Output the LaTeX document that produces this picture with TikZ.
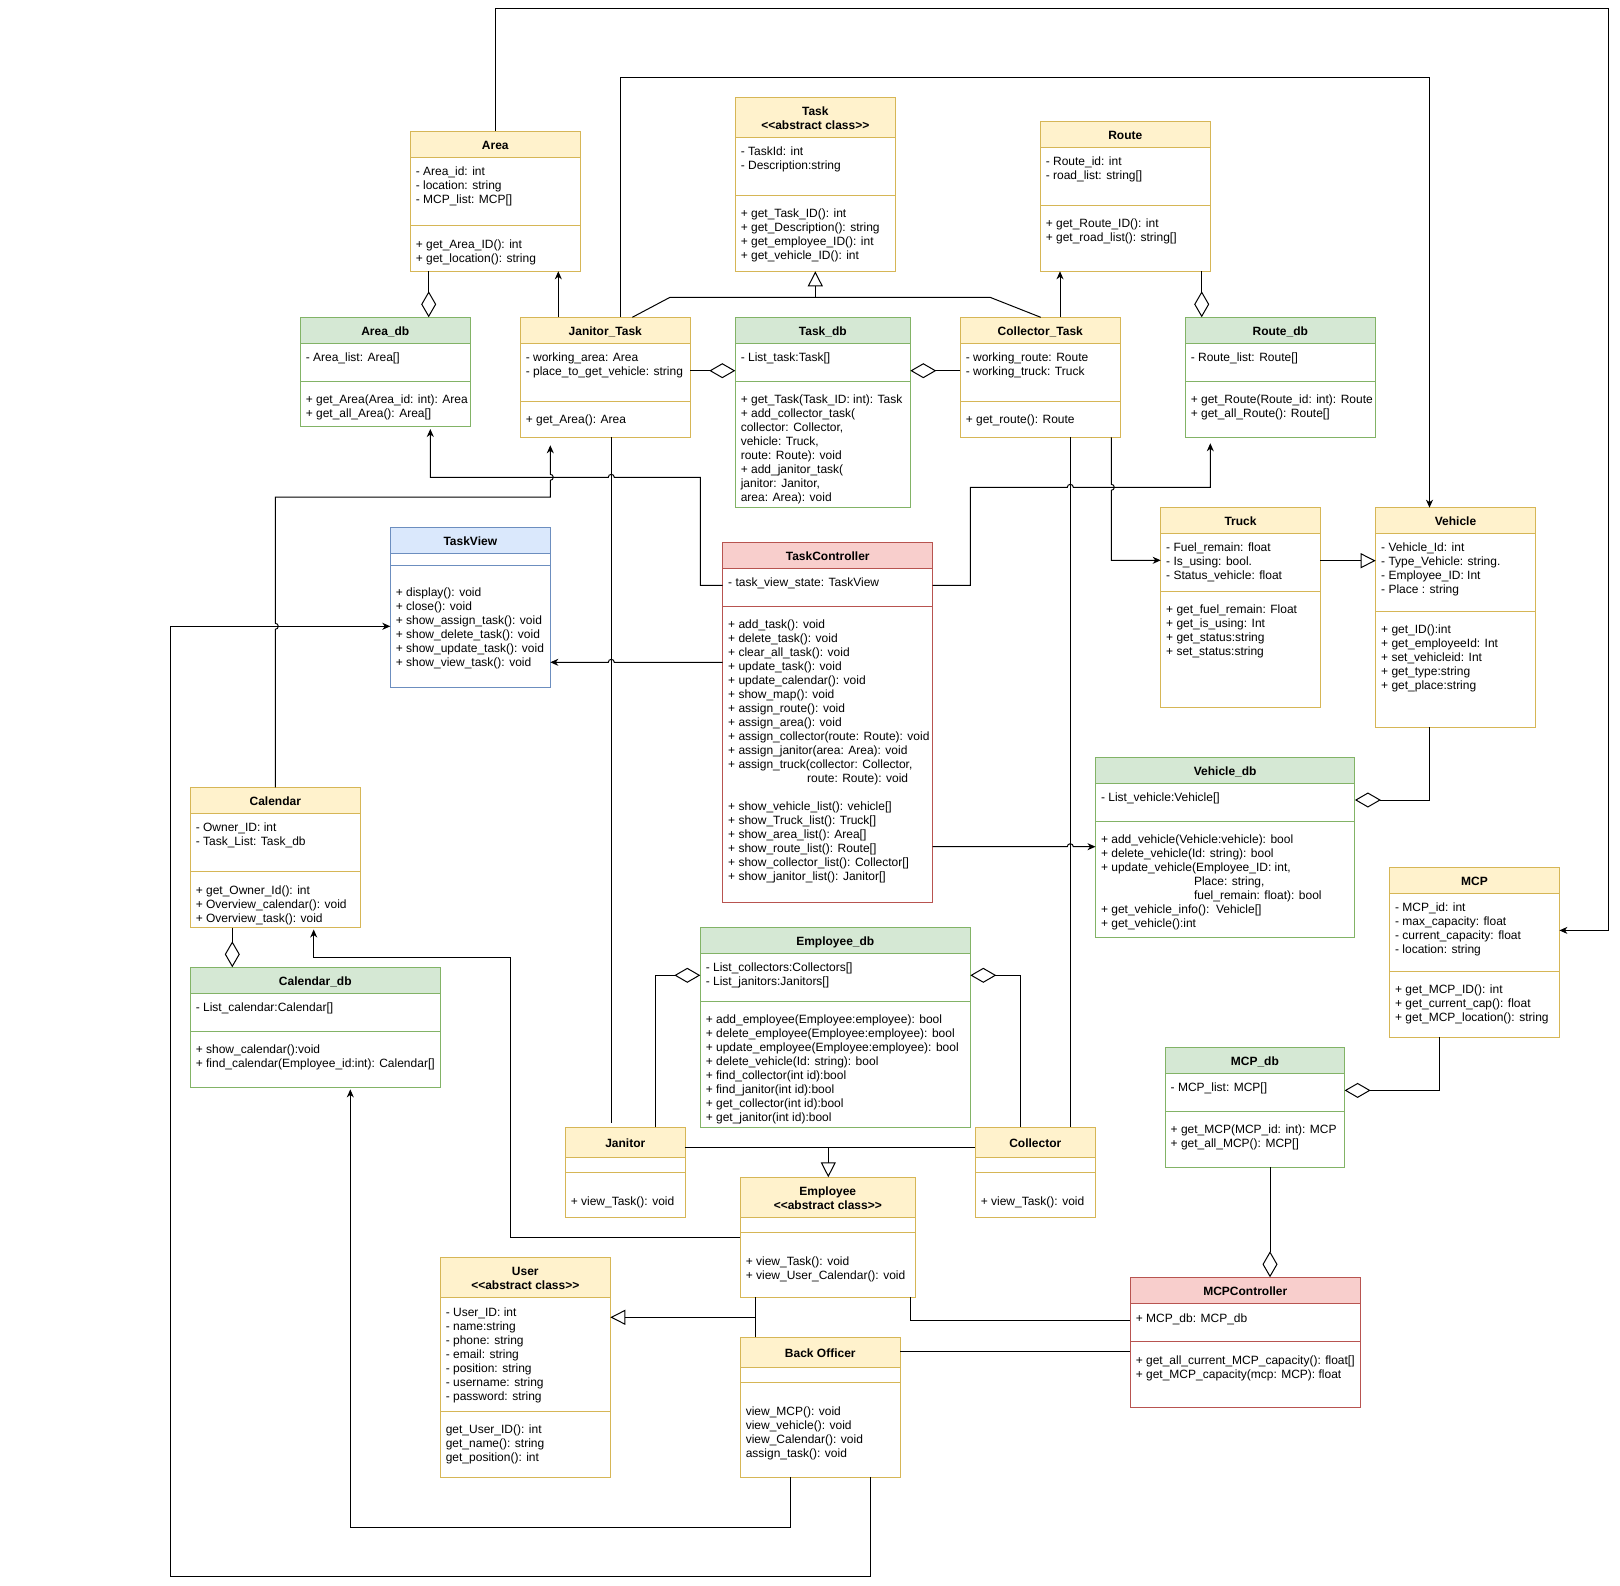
\documentclass[tikz,border=0pt]{standalone}
\usepackage{fontspec}
\setmainfont{Liberation Sans}
\usetikzlibrary{arrows.meta}
\definecolor{ylwfill}{HTML}{FFF2CC}\definecolor{ylwline}{HTML}{D6B656}
\definecolor{grnfill}{HTML}{D5E8D4}\definecolor{grnline}{HTML}{82B366}
\definecolor{blufill}{HTML}{DAE8FC}\definecolor{bluline}{HTML}{6C8EBF}
\definecolor{redfill}{HTML}{F8CECC}\definecolor{redline}{HTML}{B85450}
\tikzset{
  boxframe/.style={draw, fill=none, inner sep=0pt, outer sep=0pt, line width=1pt},
  ttl/.style={anchor=base, inner sep=0pt, outer sep=0pt, font=\fontsize{12}{14}\selectfont\bfseries},
  ctxt/.style={anchor=base west, inner sep=0pt, outer sep=0pt, font=\fontsize{12}{14}\selectfont},
  conn/.style={draw=black, line width=1pt},
  arr/.style={conn, -{Stealth[length=8pt,width=7pt,inset=2.5pt]}},
  gen/.style={conn, -{Triangle[open,length=15pt,width=15pt,fill=white]}},
  agg/.style={conn, -{Diamond[open,length=26pt,width=15pt,fill=white]}},
}
\newcommand{\classbox}[9]{%
  \fill[#2fill] (#3,#4) rectangle (#5,#7);
  \node[boxframe, draw=#2line, anchor=north west, minimum width={(#5-#3)*1pt}, minimum height={(#6-#4)*1pt}] (#1) at (#3,#4) {};
  \draw[#2line, line width=1pt] (#3,#7) -- (#5,#7) (#3,#8) -- (#5,#8);
  \node[ttl] (#1title) at ({(#3+#5)/2},{(#4+#7)/2+5.2}) {#9};
}
\newcommand{\ctext}[4]{\node[ctxt] (#1) at ({#2+5.5},{#3+5.2}) {\begin{tabular}[t]{@{}l@{}}#4\end{tabular}};}
\newcommand{\twoline}[2]{\raisebox{7pt}{\begin{tabular}[t]{@{}c@{}}#1\\#2\end{tabular}}}
\newcommand{\abst}{<\kern0pt<abstract class>\kern0pt>}
\begin{document}
\catcode`\_=12
\begin{tikzpicture}[x=1pt, y=-1pt, line width=1pt]
\fill[white] (0,0) rectangle (1620,1586);
\useasboundingbox (0,0) rectangle (1620,1586);

% ---------- classes ----------
\classbox{Task}{ylw}{735.3}{97.3}{895.3}{271.3}{137.3}{195.3}{\twoline{Task}{\abst}}
\ctext{Taska}{735.3}{150.7}{- TaskId: int\\- Description:string}
\ctext{Taskm}{735.3}{212.7}{+ get_Task_ID(): int\\+ get_Description(): string\\+ get_employee_ID(): int\\+ get_vehicle_ID(): int}

\classbox{Area}{ylw}{410.3}{131.3}{580.3}{271.3}{157.3}{225.3}{Area}
\ctext{Areaa}{410.3}{170.7}{- Area_id: int\\- location: string\\- MCP_list: MCP[]}
\ctext{Aream}{410.3}{243}{+ get_Area_ID(): int\\+ get_location(): string}

\classbox{Route}{ylw}{1040.3}{121.3}{1210.3}{271.3}{147.7}{205.7}{Route}
\ctext{Routea}{1040.3}{160.7}{- Route_id: int\\- road_list: string[]}
\ctext{Routem}{1040.3}{222.7}{+ get_Route_ID(): int\\+ get_road_list(): string[]}

\classbox{AreaDB}{grn}{300.3}{317.3}{470.3}{427}{343.3}{381.3}{Area_db}
\ctext{AreaDBa}{300.3}{356.7}{- Area_list: Area[]}
\ctext{AreaDBm}{300.3}{398.7}{+ get_Area(Area_id: int): Area\\+ get_all_Area(): Area[]}

\classbox{JanitorTask}{ylw}{520.3}{317.3}{690.3}{437.3}{343.3}{401.7}{Janitor_Task}
\ctext{JanitorTaska}{520.3}{356.7}{- working_area: Area\\- place_to_get_vehicle: string}
\ctext{JanitorTaskm}{520.3}{418.7}{+ get_Area(): Area}

\classbox{TaskDB}{grn}{735.3}{317.3}{910.3}{507.3}{343.3}{381.3}{Task_db}
\ctext{TaskDBa}{735.3}{356.7}{- List_task:Task[]}
\ctext{TaskDBm}{735.3}{398.7}{+ get_Task(Task_ID: int): Task\\+ add_collector_task(\\collector: Collector,\\vehicle: Truck,\\route: Route): void\\+ add_janitor_task(\\janitor: Janitor,\\area: Area): void}

\classbox{CollectorTask}{ylw}{960.3}{317.3}{1120.3}{437.3}{343.3}{401.7}{Collector_Task}
\ctext{CollectorTaska}{960.3}{356.7}{- working_route: Route\\- working_truck: Truck}
\ctext{CollectorTaskm}{960.3}{418.7}{+ get_route(): Route}

\classbox{RouteDB}{grn}{1185.3}{317.3}{1375.3}{437.3}{343.3}{381.3}{Route_db}
\ctext{RouteDBa}{1185.3}{356.7}{- Route_list: Route[]}
\ctext{RouteDBm}{1185.3}{398.7}{+ get_Route(Route_id: int): Route\\+ get_all_Route(): Route[]}

\classbox{TaskView}{blu}{390.3}{527.6}{550.3}{687.1}{553.3}{565.7}{TaskView}
\ctext{TaskViewm}{390.3}{591}{+ display(): void\\+ close(): void\\+ show_assign_task(): void\\+ show_delete_task(): void\\+ show_update_task(): void\\+ show_view_task(): void}

\classbox{TaskController}{red}{722.7}{542.3}{932.7}{902.3}{568.3}{606.3}{TaskController}
\ctext{TaskControllera}{722.7}{581.7}{- task_view_state: TaskView}
\ctext{TaskControllerm}{722.7}{623.7}{+ add_task(): void\\+ delete_task(): void\\+ clear_all_task(): void\\+ update_task(): void\\+ update_calendar(): void\\+ show_map(): void\\+ assign_route(): void\\+ assign_area(): void\\+ assign_collector(route: Route): void\\+ assign_janitor(area: Area): void\\+ assign_truck(collector: Collector,\\\hspace*{79pt}route: Route): void\\ \\+ show_vehicle_list(): vehicle[]\\+ show_Truck_list(): Truck[]\\+ show_area_list(): Area[]\\+ show_route_list(): Route[]\\+ show_collector_list(): Collector[]\\+ show_janitor_list(): Janitor[]}

\classbox{Truck}{ylw}{1160.7}{507.7}{1320.3}{707.3}{533.3}{591.7}{Truck}
\ctext{Trucka}{1160.7}{546.7}{- Fuel_remain: float\\- Is_using: bool.\\- Status_vehicle: float}
\ctext{Truckm}{1160.7}{608.7}{+ get_fuel_remain: Float\\+ get_is_using: Int\\+ get_status:string\\+ set_status:string}

\classbox{Vehicle}{ylw}{1375.7}{507.7}{1535.3}{727.3}{533.3}{611.7}{Vehicle}
\ctext{Vehiclea}{1375.7}{546.7}{- Vehicle_Id: int\\- Type_Vehicle: string.\\- Employee_ID: Int\\- Place : string}
\ctext{Vehiclem}{1375.7}{628.7}{+ get_ID():int\\+ get_employeeId: Int\\+ set_vehicleid: Int\\+ get_type:string\\+ get_place:string}

\classbox{VehicleDB}{grn}{1095.5}{757.1}{1354.9}{937.1}{783.2}{821.4}{Vehicle_db}
\ctext{VehicleDBa}{1095.5}{796.4}{- List_vehicle:Vehicle[]}
\ctext{VehicleDBm}{1095.5}{838.6}{+ add_vehicle(Vehicle:vehicle): bool\\+ delete_vehicle(Id: string): bool\\+ update_vehicle(Employee_ID: int,\\\hspace*{93pt}Place: string,\\\hspace*{93pt}fuel_remain: float): bool\\+ get_vehicle_info():\ \ Vehicle[]\\+ get_vehicle():int}

\classbox{MCP}{ylw}{1389.6}{867.5}{1559.4}{1037.1}{893.6}{971.4}{MCP}
\ctext{MCPa}{1389.6}{906.4}{- MCP_id: int\\- max_capacity: float\\- current_capacity: float\\- location: string}
\ctext{MCPm}{1389.6}{988.6}{+ get_MCP_ID(): int\\+ get_current_cap(): float\\+ get_MCP_location(): string}

\classbox{Calendar}{ylw}{190.3}{787.4}{360.3}{927.5}{813.8}{871.6}{Calendar}
\ctext{Calendara}{190.3}{826.4}{- Owner_ID: int\\- Task_List: Task_db}
\ctext{Calendarm}{190.3}{888.8}{+ get_Owner_Id(): int\\+ Overview_calendar(): void\\+ Overview_task(): void}

\classbox{CalendarDB}{grn}{190.3}{967.3}{440.3}{1087.4}{993.3}{1031.6}{Calendar_db}
\ctext{CalendarDBa}{190.3}{1006.3}{- List_calendar:Calendar[]}
\ctext{CalendarDBm}{190.3}{1048.4}{+ show_calendar():void\\+ find_calendar(Employee_id:int): Calendar[]}

\classbox{EmployeeDB}{grn}{700.3}{927.3}{970.3}{1127}{953.3}{1001.3}{Employee_db}
\ctext{EmployeeDBa}{700.3}{966.7}{- List_collectors:Collectors[]\\- List_janitors:Janitors[]}
\ctext{EmployeeDBm}{700.3}{1018.7}{+ add_employee(Employee:employee): bool\\+ delete_employee(Employee:employee): bool\\+ update_employee(Employee:employee): bool\\+ delete_vehicle(Id: string): bool\\+ find_collector(int id):bool\\+ find_janitor(int id):bool\\+ get_collector(int id):bool\\+ get_janitor(int id):bool}

\classbox{Janitor}{ylw}{565.3}{1127.3}{685.3}{1217.3}{1157.3}{1172.3}{Janitor}
\ctext{Janitorm}{565.3}{1200.7}{+ view_Task(): void}

\classbox{Collector}{ylw}{975.3}{1127.3}{1095.3}{1217.3}{1157.3}{1172.3}{Collector}
\ctext{Collectorm}{975.3}{1200.7}{+ view_Task(): void}

\classbox{Employee}{ylw}{740.3}{1177.3}{915.3}{1297.3}{1217.3}{1232.3}{\twoline{Employee}{\abst}}
\ctext{Employeem}{740.3}{1260.7}{+ view_Task(): void\\+ view_User_Calendar(): void}

\classbox{User}{ylw}{440.3}{1257.3}{610.3}{1477.3}{1297.3}{1411.3}{\twoline{User}{\abst}}
\ctext{Usera}{440.3}{1311.7}{- User_ID: int\\- name:string\\- phone: string\\- email: string\\- position: string\\- username: string\\- password: string}
\ctext{Userm}{440.3}{1428.7}{get_User_ID(): int\\get_name(): string\\get_position(): int}

\classbox{BackOfficer}{ylw}{740.3}{1337.3}{900.3}{1477.3}{1367.3}{1382.3}{Back Officer}
\ctext{BackOfficerm}{740.3}{1410.7}{view_MCP(): void\\view_vehicle(): void\\view_Calendar(): void\\assign_task(): void}

\classbox{MCPDB}{grn}{1165.2}{1047.5}{1344.6}{1167.1}{1073.6}{1111.4}{MCP_db}
\ctext{MCPDBa}{1165.2}{1086.4}{- MCP_list: MCP[]}
\ctext{MCPDBm}{1165.2}{1128.2}{+ get_MCP(MCP_id: int): MCP\\+ get_all_MCP(): MCP[]}

\classbox{MCPController}{red}{1130.3}{1277.3}{1360.3}{1407}{1303.3}{1341.3}{MCPController}
\ctext{MCPControllera}{1130.3}{1317.3}{+ MCP_db: MCP_db}
\ctext{MCPControllerm}{1130.3}{1359}{+ get_all_current_MCP_capacity(): float[]\\+ get_MCP_capacity(mcp: MCP): float}

% ---------- connectors ----------
\draw[arr] (495.3,0 |- Area.north) -- (495.3,8.3) -- (1608.7,8.3) -- (1608.7,930.4) -- (MCP.east |- 0,930.4);
\draw[arr] (620.3,0 |- JanitorTask.north) -- (620.3,77.5) -- (1429.5,77.5) -- (1429.5,0 |- Vehicle.north);
\draw[agg] (428.7,0 |- Area.south) -- (428.7,0 |- AreaDB.north);
\draw[arr] (558.3,0 |- JanitorTask.north) -- (558.3,0 |- Area.south);
\draw[conn] (632.3,0 |- JanitorTask.north) -- (670,297.3) -- (990,297.3) -- (1040.7,0 |- CollectorTask.north);
\draw[gen] (815.3,297.3) -- (815.3,0 |- Task.south);
\draw[agg] (JanitorTask.east |- 0,370.7) -- (TaskDB.west |- 0,370.7);
\draw[agg] (CollectorTask.west |- 0,370.7) -- (TaskDB.east |- 0,370.7);
\draw[arr] (1060,0 |- CollectorTask.north) -- (1060,0 |- Route.south);
\draw[agg] (1201.7,0 |- Route.south) -- (1201.7,0 |- RouteDB.north);
\draw[arr, shorten >=6pt] (TaskController.east |- 0,585.3) -- (970.3,585.3) -- (970.3,487.3) -- (1067.3,487.3) arc[start angle=180,end angle=0,radius=3pt] -- (1210.3,487.3) -- (1210.3,0 |- RouteDB.south);
\draw[arr, shorten >=2pt] (TaskController.west |- 0,585.3) -- (700.3,585.3) -- (700.3,477.3) -- (614.3,477.3) arc[start angle=0,end angle=180,radius=3pt] -- (430.3,477.3) -- (430.3,0 |- AreaDB.south);
\draw[arr, shorten >=8pt] (275.3,0 |- Calendar.north) -- (275.3,629.3) arc[start angle=-90,end angle=90,radius=3pt] -- (275.3,497) -- (550.3,497) -- (550.3,480.3) arc[start angle=-90,end angle=90,radius=3pt] -- (550.3,0 |- JanitorTask.south);
\draw[arr] (870.7,0 |- BackOfficer.south) -- (870.7,1576.7) -- (170.5,1576.7) -- (170.5,626.3) -- (TaskView.west |- 0,626.3);
\draw[arr] (TaskController.west |- 0,662.3) -- (614.3,662.3) arc[start angle=0,end angle=180,radius=3pt] -- (TaskView.east |- 0,662.3);
\draw[conn, shorten >=4pt] (611.3,0 |- JanitorTask.south) -- (611.3,0 |- Janitor.north);
\draw[conn] (1070.3,0 |- CollectorTask.south) -- (1070.3,0 |- Collector.north);
\draw[arr] (1111.3,0 |- CollectorTask.south) -- (1111.3,484.3) arc[start angle=90,end angle=-90,radius=3pt] -- (1111.3,560.3) -- (Truck.west |- 0,560.3);
\draw[gen] (Truck.east |- 0,560.7) -- (Vehicle.west |- 0,560.7);
\draw[agg] (1429.5,0 |- Vehicle.south) -- (1429.5,800) -- (VehicleDB.east |- 0,800);
\draw[arr] (TaskController.east |- 0,846.7) -- (1067.3,846.7) arc[start angle=180,end angle=0,radius=3pt] -- (VehicleDB.west |- 0,846.7);
\draw[agg] (1439.5,0 |- MCP.south) -- (1439.5,1090.4) -- (MCPDB.east |- 0,1090.4);
\draw[agg] (1270,0 |- MCPDB.south) -- (1270,0 |- MCPController.north);
\draw[conn] (910.7,0 |- Employee.south) -- (910.7,1320.3) -- (MCPController.west |- 0,1320.3);
\draw[conn] (BackOfficer.east |- 0,1351.3) -- (MCPController.west |- 0,1351.3);
\draw[gen] (755.3,0 |- Employee.south) -- (755.3,1317.3) -- (User.east |- 0,1317.3);
\draw[conn] (755.3,0 |- BackOfficer.north) -- (755.3,1317.3);
\draw[conn] (Janitor.east |- 0,1147.7) -- (Collector.west |- 0,1147.7);
\draw[gen] (828.3,1147.7) -- (828.3,0 |- Employee.north);
\draw[agg] (655.3,0 |- Janitor.north) -- (655.3,975.3) -- (EmployeeDB.west |- 0,975.3);
\draw[agg] (1020.8,0 |- Collector.north) -- (1020.8,975.3) -- (EmployeeDB.east |- 0,975.3);
\draw[agg] (232.3,0 |- Calendar.south) -- (232.3,0 |- CalendarDB.north);
\draw[arr, shorten >=2pt] (Employee.west |- 0,1237.3) -- (510.3,1237.3) -- (510.3,957.3) -- (313.7,957.3) -- (313.7,0 |- Calendar.south);
\draw[arr, shorten >=2pt] (790.7,0 |- BackOfficer.south) -- (790.7,1527) -- (350.3,1527) -- (350.3,0 |- CalendarDB.south);
\end{tikzpicture}
\end{document}
